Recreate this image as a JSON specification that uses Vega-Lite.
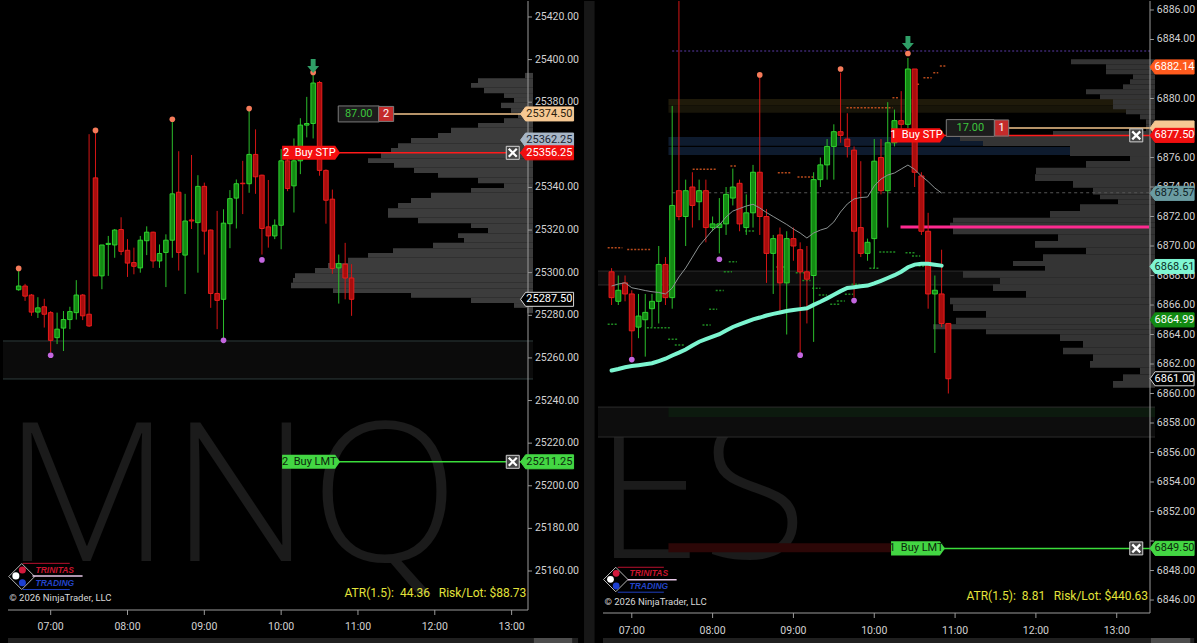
{
"$schema": "https://vega.github.io/schema/vega-lite/v6.json",
"background": "#000000",
"padding": {"left": 2, "top": 0, "right": 0, "bottom": 0},
"bounds": "flush",
"spacing": 65,
"config": {
  "view": {"stroke": null},
  "font": "Roboto",
  "text": {"font": "Roboto"}
},
"resolve": {"scale": {"color": "independent", "fill": "independent", "stroke": "independent"}},
"datasets": {
  "hours": [{"t":"2026-01-02 07:00"},{"t":"2026-01-02 08:00"},{"t":"2026-01-02 09:00"},{"t":"2026-01-02 10:00"},{"t":"2026-01-02 11:00"},{"t":"2026-01-02 12:00"},{"t":"2026-01-02 13:00"}],
  "mnqTicks": [{"p":25160},{"p":25180},{"p":25200},{"p":25220},{"p":25240},{"p":25260},{"p":25280},{"p":25300},{"p":25320},{"p":25340},{"p":25360},{"p":25380},{"p":25400},{"p":25420}],
  "esTicks": [{"p":6846},{"p":6848},{"p":6850},{"p":6852},{"p":6854},{"p":6856},{"p":6858},{"p":6860},{"p":6862},{"p":6864},{"p":6866},{"p":6868},{"p":6870},{"p":6872},{"p":6874},{"p":6876},{"p":6878},{"p":6880},{"p":6882},{"p":6884},{"p":6886}],
  "mnq": [
{"t":"2026-01-02 06:35","o":25292,"h":25300.75,"l":25291.5,"c":25293.75},
{"t":"2026-01-02 06:40","o":25293.75,"h":25294.75,"l":25286.75,"c":25289},
{"t":"2026-01-02 06:45","o":25289.5,"h":25290,"l":25279.75,"c":25281.5},
{"t":"2026-01-02 06:50","o":25281.5,"h":25288.5,"l":25278.75,"c":25283.5},
{"t":"2026-01-02 06:55","o":25284,"h":25287.75,"l":25274.25,"c":25280.5},
{"t":"2026-01-02 07:00","o":25281.25,"h":25282,"l":25262.5,"c":25268.25},
{"t":"2026-01-02 07:05","o":25269.5,"h":25281.25,"l":25266.5,"c":25273.5},
{"t":"2026-01-02 07:10","o":25274,"h":25282,"l":25263.25,"c":25278},
{"t":"2026-01-02 07:15","o":25278,"h":25284,"l":25273.5,"c":25281.75},
{"t":"2026-01-02 07:20","o":25281.25,"h":25296.5,"l":25278,"c":25289.5},
{"t":"2026-01-02 07:25","o":25289.5,"h":25290,"l":25277.75,"c":25279.75},
{"t":"2026-01-02 07:30","o":25280.5,"h":25365,"l":25274.5,"c":25275},
{"t":"2026-01-02 07:35","o":25344.5,"h":25365.75,"l":25298.5,"c":25298.5},
{"t":"2026-01-02 07:40","o":25298.5,"h":25313,"l":25292.25,"c":25313},
{"t":"2026-01-02 07:45","o":25313.25,"h":25317.25,"l":25298.5,"c":25313.75},
{"t":"2026-01-02 07:50","o":25313,"h":25320.5,"l":25307,"c":25320},
{"t":"2026-01-02 07:55","o":25320.25,"h":25326,"l":25308.25,"c":25310},
{"t":"2026-01-02 08:00","o":25310.5,"h":25315.75,"l":25298,"c":25304.5},
{"t":"2026-01-02 08:05","o":25304.75,"h":25311.75,"l":25299.25,"c":25303},
{"t":"2026-01-02 08:10","o":25302.25,"h":25317.25,"l":25300,"c":25315.25},
{"t":"2026-01-02 08:15","o":25315,"h":25321.75,"l":25308.25,"c":25319},
{"t":"2026-01-02 08:20","o":25319,"h":25319.25,"l":25302.25,"c":25305.5},
{"t":"2026-01-02 08:25","o":25305.5,"h":25313.25,"l":25302.25,"c":25309},
{"t":"2026-01-02 08:30","o":25309.5,"h":25318,"l":25293.25,"c":25315.25},
{"t":"2026-01-02 08:35","o":25315.25,"h":25371.25,"l":25307,"c":25337},
{"t":"2026-01-02 08:40","o":25337.75,"h":25357,"l":25301,"c":25309.5},
{"t":"2026-01-02 08:45","o":25308.25,"h":25337,"l":25290,"c":25324.25},
{"t":"2026-01-02 08:50","o":25324.75,"h":25355.25,"l":25320.5,"c":25324.25},
{"t":"2026-01-02 08:55","o":25323.5,"h":25345.75,"l":25300,"c":25340.5},
{"t":"2026-01-02 09:00","o":25340.5,"h":25342.25,"l":25308.5,"c":25319.5},
{"t":"2026-01-02 09:05","o":25320,"h":25320.25,"l":25283.5,"c":25290.25},
{"t":"2026-01-02 09:10","o":25290.25,"h":25329,"l":25273.5,"c":25287},
{"t":"2026-01-02 09:15","o":25287.5,"h":25329.75,"l":25268.75,"c":25323.25},
{"t":"2026-01-02 09:20","o":25323,"h":25338.75,"l":25311.5,"c":25334.75},
{"t":"2026-01-02 09:25","o":25335,"h":25343.75,"l":25320.75,"c":25341.75},
{"t":"2026-01-02 09:30","o":25342,"h":25352.5,"l":25327.5,"c":25341.75},
{"t":"2026-01-02 09:35","o":25341.75,"h":25376,"l":25337.5,"c":25355.5},
{"t":"2026-01-02 09:40","o":25355.5,"h":25367.25,"l":25337,"c":25345},
{"t":"2026-01-02 09:45","o":25345.75,"h":25346,"l":25308.5,"c":25320.75},
{"t":"2026-01-02 09:50","o":25321.5,"h":25343.5,"l":25311.75,"c":25317.25},
{"t":"2026-01-02 09:55","o":25317.25,"h":25325,"l":25315.75,"c":25322.25},
{"t":"2026-01-02 10:00","o":25322.25,"h":25358,"l":25311,"c":25352.5},
{"t":"2026-01-02 10:05","o":25352.5,"h":25358,"l":25338.25,"c":25339.5},
{"t":"2026-01-02 10:10","o":25340.75,"h":25363,"l":25328.25,"c":25352.5},
{"t":"2026-01-02 10:15","o":25352.5,"h":25372.5,"l":25346.25,"c":25369.25},
{"t":"2026-01-02 10:20","o":25369.25,"h":25382.5,"l":25363.5,"c":25370},
{"t":"2026-01-02 10:25","o":25370,"h":25393,"l":25363,"c":25389},
{"t":"2026-01-02 10:30","o":25389.25,"h":25390,"l":25345.5,"c":25348},
{"t":"2026-01-02 10:35","o":25348,"h":25348.5,"l":25323,"c":25334},
{"t":"2026-01-02 10:40","o":25334.5,"h":25339,"l":25299.5,"c":25302},
{"t":"2026-01-02 10:45","o":25302.25,"h":25308.5,"l":25285.5,"c":25304.25},
{"t":"2026-01-02 10:50","o":25304,"h":25314,"l":25287.5,"c":25297.5},
{"t":"2026-01-02 10:55","o":25297.5,"h":25304,"l":25279.75,"c":25287.5}
  ],
  "mnqDots": [
{"t":"2026-01-02 06:35","p":25302,"k":"hi"},
{"t":"2026-01-02 07:35","p":25366.75,"k":"hi"},
{"t":"2026-01-02 08:35","p":25372,"k":"hi"},
{"t":"2026-01-02 09:35","p":25377,"k":"hi"},
{"t":"2026-01-02 10:25","p":25394,"k":"hi"},
{"t":"2026-01-02 07:00","p":25261.25,"k":"lo"},
{"t":"2026-01-02 09:15","p":25268.25,"k":"lo"},
{"t":"2026-01-02 09:45","p":25306,"k":"lo"}
  ],
  "mnqProf": [
{"hi":25393.75,"lo":25391.25,"v":8},{"hi":25391.25,"lo":25389,"v":55},{"hi":25389,"lo":25386.75,"v":62},{"hi":25386.75,"lo":25384.25,"v":49},
{"hi":25384.25,"lo":25382,"v":29},{"hi":25382,"lo":25379.75,"v":19},{"hi":25379.75,"lo":25377.25,"v":32},{"hi":25377.25,"lo":25375,"v":22},
{"hi":25375,"lo":25372.5,"v":15},{"hi":25372.5,"lo":25370.25,"v":29},{"hi":25370.25,"lo":25368,"v":55},{"hi":25368,"lo":25365.5,"v":82},
{"hi":25365.5,"lo":25363.25,"v":95},{"hi":25363.25,"lo":25360.75,"v":122},{"hi":25360.75,"lo":25358.5,"v":135},{"hi":25358.5,"lo":25356.25,"v":142},
{"hi":25356.25,"lo":25353.75,"v":152},{"hi":25353.75,"lo":25351.5,"v":165},{"hi":25351.5,"lo":25349.25,"v":139},{"hi":25349.25,"lo":25346.75,"v":119},
{"hi":25346.75,"lo":25344.5,"v":95},{"hi":25344.5,"lo":25342,"v":55},{"hi":25342,"lo":25339.75,"v":29},{"hi":25339.75,"lo":25337.5,"v":62},
{"hi":25337.5,"lo":25335,"v":102},{"hi":25335,"lo":25332.75,"v":122},{"hi":25332.75,"lo":25330.25,"v":135},{"hi":25330.25,"lo":25328,"v":145},
{"hi":25328,"lo":25325.75,"v":145},{"hi":25325.75,"lo":25323.25,"v":115},{"hi":25323.25,"lo":25321,"v":62},{"hi":25321,"lo":25318.5,"v":45},
{"hi":25318.5,"lo":25316.25,"v":75},{"hi":25316.25,"lo":25314,"v":69},{"hi":25314,"lo":25311.5,"v":100},{"hi":25311.5,"lo":25309.25,"v":140},
{"hi":25309.25,"lo":25307,"v":165},{"hi":25307,"lo":25304.5,"v":185},{"hi":25304.5,"lo":25302.25,"v":205},{"hi":25302.25,"lo":25299.75,"v":218},
{"hi":25299.75,"lo":25297.5,"v":238},{"hi":25297.5,"lo":25295.25,"v":240},{"hi":25295.25,"lo":25292.75,"v":242},{"hi":25292.75,"lo":25290.5,"v":200},
{"hi":25290.5,"lo":25288.25,"v":122},{"hi":25288.25,"lo":25285.75,"v":62},{"hi":25285.75,"lo":25283.5,"v":19},{"hi":25283.5,"lo":25281,"v":6}
  ],
  "mnqOrders": [{"p":25356.25,"k":"stop","lbl":"2\u00a0 Buy STP"},{"p":25211.25,"k":"lmt","lbl":"2\u00a0 Buy LMT"}],
  "mnqTags": [{"p":25374.5,"k":"pos"},{"p":25362.25,"k":"ref"},{"p":25356.25,"k":"stop"},{"p":25287.5,"k":"last"},{"p":25211.25,"k":"lmt"}],
  "es": [
{"t":"2026-01-02 06:45","o":6868.25,"h":6868.5,"l":6866,"c":6866.5,"m1":6867.29,"m2":6861.56},
{"t":"2026-01-02 06:50","o":6866.25,"h":6868,"l":6866,"c":6867,"m1":6867.42,"m2":6861.66},
{"t":"2026-01-02 06:55","o":6867.5,"h":6868,"l":6866.25,"c":6866.75,"m1":6867.51,"m2":6861.78},
{"t":"2026-01-02 07:00","o":6866.75,"h":6867,"l":6862.5,"c":6864.25,"m1":6867.17,"m2":6861.86},
{"t":"2026-01-02 07:05","o":6864.5,"h":6866.75,"l":6863.75,"c":6865.25,"m1":6867.08,"m2":6861.92},
{"t":"2026-01-02 07:10","o":6865,"h":6866.75,"l":6862.5,"c":6865.5,"m1":6866.98,"m2":6861.98},
{"t":"2026-01-02 07:15","o":6865.75,"h":6866.75,"l":6864.5,"c":6866.25,"m1":6866.9,"m2":6862.05},
{"t":"2026-01-02 07:20","o":6866.25,"h":6870,"l":6864.75,"c":6868.75,"m1":6866.85,"m2":6862.2},
{"t":"2026-01-02 07:25","o":6868.75,"h":6869.25,"l":6866,"c":6866.5,"m1":6866.75,"m2":6862.36},
{"t":"2026-01-02 07:30","o":6866.5,"h":6879.5,"l":6865.75,"c":6872.75,"m1":6867.15,"m2":6862.58},
{"t":"2026-01-02 07:35","o":6873.75,"h":6890,"l":6871.75,"c":6872,"m1":6867.9,"m2":6862.77},
{"t":"2026-01-02 07:40","o":6872,"h":6874.5,"l":6870,"c":6873.75,"m1":6868.51,"m2":6862.98},
{"t":"2026-01-02 07:45","o":6874,"h":6875,"l":6871.25,"c":6872.75,"m1":6869.25,"m2":6863.25},
{"t":"2026-01-02 07:50","o":6873,"h":6874.5,"l":6871.75,"c":6873.75,"m1":6870,"m2":6863.51},
{"t":"2026-01-02 07:55","o":6873.75,"h":6874.5,"l":6870.25,"c":6871.25,"m1":6870.54,"m2":6863.69},
{"t":"2026-01-02 08:00","o":6871.25,"h":6872,"l":6871,"c":6871.5,"m1":6871.08,"m2":6863.86},
{"t":"2026-01-02 08:05","o":6871.25,"h":6873.25,"l":6869.5,"c":6871.5,"m1":6871.42,"m2":6864.02},
{"t":"2026-01-02 08:10","o":6871.5,"h":6874,"l":6870.75,"c":6873.5,"m1":6871.97,"m2":6864.27},
{"t":"2026-01-02 08:15","o":6873.25,"h":6875.25,"l":6872.75,"c":6874,"m1":6872.37,"m2":6864.51},
{"t":"2026-01-02 08:20","o":6874.25,"h":6874.5,"l":6871,"c":6871.5,"m1":6872.54,"m2":6864.68},
{"t":"2026-01-02 08:25","o":6871.25,"h":6873.5,"l":6870.75,"c":6872.25,"m1":6872.71,"m2":6864.86},
{"t":"2026-01-02 08:30","o":6872.25,"h":6875.5,"l":6871.25,"c":6875,"m1":6872.83,"m2":6865.03},
{"t":"2026-01-02 08:35","o":6875,"h":6881.5,"l":6870.75,"c":6872,"m1":6872.58,"m2":6865.15},
{"t":"2026-01-02 08:40","o":6872,"h":6872.5,"l":6867.5,"c":6869.5,"m1":6872.27,"m2":6865.29},
{"t":"2026-01-02 08:45","o":6869.5,"h":6870.75,"l":6866.75,"c":6870.5,"m1":6872,"m2":6865.4},
{"t":"2026-01-02 08:50","o":6870.75,"h":6871.25,"l":6865.5,"c":6867.5,"m1":6871.73,"m2":6865.49},
{"t":"2026-01-02 08:55","o":6867.5,"h":6871,"l":6864,"c":6870.5,"m1":6871.46,"m2":6865.59},
{"t":"2026-01-02 09:00","o":6870.5,"h":6871.25,"l":6869,"c":6870,"m1":6871.15,"m2":6865.66},
{"t":"2026-01-02 09:05","o":6869.75,"h":6870.25,"l":6862.75,"c":6868.25,"m1":6870.88,"m2":6865.72},
{"t":"2026-01-02 09:10","o":6868.25,"h":6870,"l":6864.75,"c":6867.75,"m1":6870.54,"m2":6865.78},
{"t":"2026-01-02 09:15","o":6868,"h":6875,"l":6863.5,"c":6874.5,"m1":6870.88,"m2":6866.01},
{"t":"2026-01-02 09:20","o":6874.5,"h":6876,"l":6874,"c":6875.5,"m1":6871.08,"m2":6866.22},
{"t":"2026-01-02 09:25","o":6875.5,"h":6877.25,"l":6874.5,"c":6876.75,"m1":6871.22,"m2":6866.45},
{"t":"2026-01-02 09:30","o":6876.75,"h":6878.25,"l":6874.5,"c":6877.75,"m1":6871.63,"m2":6866.7},
{"t":"2026-01-02 09:35","o":6877.75,"h":6881.75,"l":6877,"c":6877.5,"m1":6872.31,"m2":6866.94},
{"t":"2026-01-02 09:40","o":6877.25,"h":6879,"l":6876,"c":6876.75,"m1":6872.85,"m2":6867.15},
{"t":"2026-01-02 09:45","o":6876.5,"h":6876.75,"l":6866.5,"c":6871,"m1":6873.19,"m2":6867.21},
{"t":"2026-01-02 09:50","o":6871.25,"h":6875.75,"l":6869.25,"c":6869.5,"m1":6873.29,"m2":6867.27},
{"t":"2026-01-02 09:55","o":6869.5,"h":6870.5,"l":6869,"c":6870.25,"m1":6873.32,"m2":6867.32},
{"t":"2026-01-02 10:00","o":6870.5,"h":6877.25,"l":6868.5,"c":6875.75,"m1":6874.07,"m2":6867.46},
{"t":"2026-01-02 10:05","o":6876,"h":6877.25,"l":6873.5,"c":6873.75,"m1":6874.54,"m2":6867.64},
{"t":"2026-01-02 10:10","o":6873.75,"h":6879.75,"l":6871.25,"c":6877,"m1":6874.81,"m2":6867.83},
{"t":"2026-01-02 10:15","o":6877,"h":6879.25,"l":6876.75,"c":6878.5,"m1":6874.95,"m2":6868.02},
{"t":"2026-01-02 10:20","o":6878.5,"h":6880.5,"l":6877.5,"c":6878.25,"m1":6875.22,"m2":6868.26},
{"t":"2026-01-02 10:25","o":6878.25,"h":6882.75,"l":6878,"c":6882,"m1":6875.49,"m2":6868.56},
{"t":"2026-01-02 10:30","o":6882,"h":6882,"l":6874,"c":6875,"m1":6875.19,"m2":6868.74},
{"t":"2026-01-02 10:35","o":6874.75,"h":6875,"l":6870.75,"c":6871,"m1":6874.75,"m2":6868.79},
{"t":"2026-01-02 10:40","o":6871,"h":6872.25,"l":6865.75,"c":6866.75,"m1":6874.37,"m2":6868.79},
{"t":"2026-01-02 10:45","o":6866.75,"h":6868,"l":6862.75,"c":6867,"m1":6873.93,"m2":6868.73},
{"t":"2026-01-02 10:50","o":6866.75,"h":6869.75,"l":6864.5,"c":6864.75,"m1":6873.59,"m2":6868.67},
{"t":"2026-01-02 10:55","o":6864.75,"h":6864.75,"l":6860,"c":6861}
  ],
  "esDots": [
{"t":"2026-01-02 08:35","p":6881.6,"k":"hi"},
{"t":"2026-01-02 09:35","p":6882.0,"k":"hi"},
{"t":"2026-01-02 10:25","p":6883.05,"k":"hi"},
{"t":"2026-01-02 07:00","p":6862.3,"k":"lo"},
{"t":"2026-01-02 08:05","p":6869.1,"k":"lo"},
{"t":"2026-01-02 09:05","p":6862.6,"k":"lo"},
{"t":"2026-01-02 09:45","p":6866.3,"k":"lo"}
  ],
  "esDash": [
{"t1":"2026-01-02 06:42:06","t2":"2026-01-02 06:53:00","p":6869.88,"k":"o"},
{"t1":"2026-01-02 06:56:36","t2":"2026-01-02 07:13:36","p":6869.77,"k":"o"},
{"t1":"2026-01-02 07:45:12","t2":"2026-01-02 08:03:24","p":6875.2,"k":"o"},
{"t1":"2026-01-02 08:13:12","t2":"2026-01-02 08:18:00","p":6875.42,"k":"o"},
{"t1":"2026-01-02 08:48:24","t2":"2026-01-02 08:58:06","p":6874.97,"k":"o"},
{"t1":"2026-01-02 09:03:00","t2":"2026-01-02 09:15:12","p":6874.68,"k":"o"},
{"t1":"2026-01-02 09:39:24","t2":"2026-01-02 10:13:30","p":6879.38,"k":"o"},
{"t1":"2026-01-02 10:13:30","t2":"2026-01-02 10:18:18","p":6880.05,"k":"o"},
{"t1":"2026-01-02 10:29:12","t2":"2026-01-02 10:34:18","p":6880.96,"k":"o"},
{"t1":"2026-01-02 10:36:30","t2":"2026-01-02 10:42:36","p":6881.41,"k":"o"},
{"t1":"2026-01-02 10:43:48","t2":"2026-01-02 10:47:30","p":6881.75,"k":"o"},
{"t1":"2026-01-02 10:48:42","t2":"2026-01-02 10:53:36","p":6882.2,"k":"o"},
{"t1":"2026-01-02 06:42:06","t2":"2026-01-02 06:49:24","p":6864.69,"k":"g"},
{"t1":"2026-01-02 07:11:12","t2":"2026-01-02 07:28:12","p":6864.46,"k":"g"},
{"t1":"2026-01-02 07:27:00","t2":"2026-01-02 07:34:18","p":6863.68,"k":"g"},
{"t1":"2026-01-02 07:31:54","t2":"2026-01-02 07:39:06","p":6863.29,"k":"g"},
{"t1":"2026-01-02 07:52:30","t2":"2026-01-02 07:58:36","p":6864.64,"k":"g"},
{"t1":"2026-01-02 07:57:24","t2":"2026-01-02 08:03:24","p":6865.71,"k":"g"},
{"t1":"2026-01-02 08:02:18","t2":"2026-01-02 08:08:18","p":6866.99,"k":"g"},
{"t1":"2026-01-02 08:08:18","t2":"2026-01-02 08:14:24","p":6868.26,"k":"g"},
{"t1":"2026-01-02 08:12:00","t2":"2026-01-02 08:18:00","p":6868.94,"k":"g"},
{"t1":"2026-01-02 08:24:06","t2":"2026-01-02 08:31:24","p":6871.02,"k":"g"},
{"t1":"2026-01-02 08:47:12","t2":"2026-01-02 08:53:18","p":6868.58,"k":"g"},
{"t1":"2026-01-02 09:01:42","t2":"2026-01-02 09:07:54","p":6868.19,"k":"g"},
{"t1":"2026-01-02 09:06:36","t2":"2026-01-02 09:12:42","p":6867.67,"k":"g"},
{"t1":"2026-01-02 09:13:54","t2":"2026-01-02 09:20:00","p":6867.13,"k":"g"},
{"t1":"2026-01-02 09:18:48","t2":"2026-01-02 09:24:54","p":6866.68,"k":"g"},
{"t1":"2026-01-02 09:27:18","t2":"2026-01-02 09:34:36","p":6866.05,"k":"g"},
{"t1":"2026-01-02 09:32:12","t2":"2026-01-02 09:38:12","p":6866.27,"k":"g"},
{"t1":"2026-01-02 09:38:12","t2":"2026-01-02 09:44:18","p":6866.73,"k":"g"},
{"t1":"2026-01-02 09:43:06","t2":"2026-01-02 09:49:06","p":6867.4,"k":"g"},
{"t1":"2026-01-02 09:56:24","t2":"2026-01-02 10:03:42","p":6868.49,"k":"g"},
{"t1":"2026-01-02 10:03:42","t2":"2026-01-02 10:15:54","p":6869.6,"k":"g"},
{"t1":"2026-01-02 10:23:12","t2":"2026-01-02 10:30:30","p":6869.55,"k":"g"},
{"t1":"2026-01-02 10:28:00","t2":"2026-01-02 10:34:06","p":6869.32,"k":"g"},
{"t1":"2026-01-02 10:32:54","t2":"2026-01-02 10:39:00","p":6868.64,"k":"g"}
  ],
  "esProf": [
{"hi":6882.66,"lo":6882.32,"v":84},{"hi":6882.32,"lo":6881.98,"v":49},{"hi":6881.98,"lo":6881.64,"v":49},{"hi":6881.64,"lo":6881.3,"v":22},
{"hi":6881.3,"lo":6880.96,"v":25},{"hi":6880.96,"lo":6880.62,"v":32},{"hi":6880.62,"lo":6880.28,"v":69},{"hi":6880.28,"lo":6879.95,"v":55},
{"hi":6879.95,"lo":6879.61,"v":42},{"hi":6879.61,"lo":6879.27,"v":42},{"hi":6879.27,"lo":6878.93,"v":29},{"hi":6878.93,"lo":6878.59,"v":15},
{"hi":6878.59,"lo":6878.25,"v":9},{"hi":6878.25,"lo":6877.8,"v":9},{"hi":6877.8,"lo":6877.46,"v":102},{"hi":6877.46,"lo":6877.12,"v":195},
{"hi":6877.12,"lo":6876.78,"v":172},{"hi":6876.78,"lo":6876.44,"v":85},{"hi":6876.44,"lo":6876.1,"v":85},{"hi":6876.1,"lo":6875.76,"v":25},
{"hi":6875.76,"lo":6875.31,"v":69},{"hi":6875.31,"lo":6874.86,"v":119},{"hi":6874.86,"lo":6874.41,"v":120},{"hi":6874.41,"lo":6873.95,"v":82},
{"hi":6873.95,"lo":6873.5,"v":62},{"hi":6873.5,"lo":6873.17,"v":55},{"hi":6873.17,"lo":6872.83,"v":37},{"hi":6872.83,"lo":6872.37,"v":75},
{"hi":6872.37,"lo":6871.92,"v":105},{"hi":6871.92,"lo":6871.58,"v":202},{"hi":6871.58,"lo":6871.24,"v":205},{"hi":6871.24,"lo":6870.79,"v":202},
{"hi":6870.79,"lo":6870.34,"v":97},{"hi":6870.34,"lo":6869.88,"v":120},{"hi":6869.88,"lo":6869.44,"v":69},{"hi":6869.44,"lo":6868.98,"v":112},
{"hi":6868.98,"lo":6868.64,"v":142},{"hi":6868.64,"lo":6868.3,"v":110},{"hi":6868.3,"lo":6867.85,"v":192},{"hi":6867.85,"lo":6867.4,"v":155},
{"hi":6867.4,"lo":6866.95,"v":162},{"hi":6866.95,"lo":6866.49,"v":129},{"hi":6866.49,"lo":6866.05,"v":205},{"hi":6866.05,"lo":6865.59,"v":202},
{"hi":6865.59,"lo":6865.14,"v":169},{"hi":6865.14,"lo":6864.69,"v":199},{"hi":6864.69,"lo":6864.35,"v":222},{"hi":6864.35,"lo":6864.01,"v":169},
{"hi":6864.01,"lo":6863.56,"v":95},{"hi":6863.56,"lo":6863.1,"v":72},{"hi":6863.1,"lo":6862.66,"v":92},{"hi":6862.66,"lo":6862.2,"v":62},
{"hi":6862.2,"lo":6861.75,"v":65},{"hi":6861.75,"lo":6861.3,"v":15},{"hi":6861.3,"lo":6860.85,"v":32},{"hi":6860.85,"lo":6860.39,"v":42}
  ],
  "esZones": [
{"lo":6879.55,"hi":6879.97,"k":"olive1"},{"lo":6879.04,"hi":6879.55,"k":"olive2"},
{"lo":6876.8,"hi":6877.39,"k":"blue"},{"lo":6876.17,"hi":6876.72,"k":"blue"},
{"lo":6858.41,"hi":6859.08,"k":"green"}
  ],
  "esOrders": [{"p":6877.5,"k":"stop","lbl":"1\u00a0 Buy STP"},{"p":6849.5,"k":"lmt","lbl":"1\u00a0 Buy LMT"}],
  "esTags": [{"p":6882.14,"k":"sig"},{"p":6878.0,"k":"pos"},{"p":6877.5,"k":"stop"},{"p":6873.57,"k":"ma1"},{"p":6868.61,"k":"ma2"},{"p":6864.99,"k":"grn"},{"p":6861.0,"k":"last"},{"p":6849.5,"k":"lmt"}]
},
"hconcat": [
{
 "width": 530, "height": 609,
 "resolve": {"scale": {"x": "independent", "color": "independent", "fill": "independent", "stroke": "independent"}},
 "layer": [
  {
   "layer": [
    {"data": {"values": [{}]}, "mark": {"type": "text", "text": "MNQ", "font": "Open Sans", "fontWeight": 300, "fontSize": 194, "align": "left", "baseline": "alphabetic", "color": "#1b1b1b"},
     "encoding": {"x": {"datum": {"year":2026,"month":1,"date":2,"hours":6,"minutes":26,"seconds":50}, "type": "temporal", "axis": null, "scale": {"domain": [{"year":2026,"month":1,"date":2,"hours":6,"minutes":26,"seconds":40},{"year":2026,"month":1,"date":2,"hours":13,"minutes":12,"seconds":48}]}},
                  "y": {"datum": 25164.7, "type": "quantitative", "axis": null, "scale": {"domain": [25141.7, 25427.5], "nice": false, "zero": false}}}},
    {"data": {"values": [{}]}, "mark": {"type": "rect", "color": "#0b0b0b"},
     "encoding": {"x": {"datum": {"year":2026,"month":1,"date":2,"hours":6,"minutes":26,"seconds":40}, "type": "temporal", "axis": null}, "x2": {"datum": {"year":2026,"month":1,"date":2,"hours":13,"minutes":12,"seconds":48}},
                  "y": {"datum": 25250.12, "type": "quantitative", "axis": null}, "y2": {"datum": 25267.95}}},
    {"data": {"values": [{}]}, "mark": {"type": "rect", "color": "#171717"},
     "encoding": {"x": {"datum": {"year":2026,"month":1,"date":2,"hours":13,"minutes":51,"seconds":54}, "type": "temporal", "axis": null}, "x2": {"datum": {"year":2026,"month":1,"date":2,"hours":14,"minutes":0,"seconds":0}},
                  "y": {"datum": 25125.8, "type": "quantitative", "axis": null}, "y2": {"datum": 25427.5}}},
    {"data": {"values": [{"p": 25267.95}, {"p": 25250.12}]}, "mark": {"type": "rule", "color": "#2e3c3c", "strokeWidth": 1},
     "encoding": {"x": {"datum": {"year":2026,"month":1,"date":2,"hours":6,"minutes":26,"seconds":40}, "type": "temporal", "axis": null}, "x2": {"datum": {"year":2026,"month":1,"date":2,"hours":13,"minutes":12,"seconds":48}},
                  "y": {"field": "p", "type": "quantitative", "axis": null}}}
   ]
  },
  {"data": {"name": "mnqProf"}, "mark": {"type": "rect", "color": "#3c3c3c"},
   "encoding": {"x": {"field": "v", "type": "quantitative", "axis": null, "scale": {"domain": [0, 530], "reverse": true, "nice": false}}, "x2": {"datum": 0},
                "y": {"field": "hi", "type": "quantitative", "axis": null}, "y2": {"field": "lo"}}},
  {
   "resolve": {"scale": {"color": "independent", "fill": "independent", "stroke": "independent"}},
   "layer": [
    {"data": {"name": "mnq"}, "mark": {"type": "rule", "strokeWidth": 1, "clip": true},
     "encoding": {"x": {"field": "t", "type": "temporal", "axis": null, "scale": {"domain": [{"year":2026,"month":1,"date":2,"hours":6,"minutes":26,"seconds":40},{"year":2026,"month":1,"date":2,"hours":13,"minutes":12,"seconds":48}]}},
                  "y": {"field": "l", "type": "quantitative", "axis": null, "scale": {"domain": [25141.7, 25427.5], "nice": false, "zero": false}},
                  "y2": {"field": "h"},
                  "color": {"condition": {"test": "datum.c >= datum.o", "value": "#2bbd2b"}, "value": "#d41515"}}},
    {"data": {"name": "mnq"}, "mark": {"type": "bar", "size": 4.5, "strokeWidth": 1},
     "encoding": {"x": {"field": "t", "type": "temporal", "axis": null}, "y": {"field": "o", "type": "quantitative", "axis": null}, "y2": {"field": "c"},
                  "fill": {"condition": {"test": "datum.c >= datum.o", "value": "#138a13"}, "value": "#a80d0d"},
                  "stroke": {"condition": {"test": "datum.c >= datum.o", "value": "#2fd02f"}, "value": "#e81c1c"}}},
    {"data": {"name": "mnqDots"}, "mark": {"type": "point", "filled": true, "size": 32, "opacity": 1},
     "encoding": {"x": {"field": "t", "type": "temporal", "axis": null}, "y": {"field": "p", "type": "quantitative", "axis": null},
                  "color": {"field": "k", "type": "nominal", "scale": {"domain": ["hi", "lo"], "range": ["#f57b5a", "#c466e0"]}, "legend": null}}},
    {"data": {"values": [{}]}, "mark": {"type": "point", "shape": "M-0.35,-1L0.35,-1L0.35,0L0.85,0L0,1L-0.85,0L-0.35,0Z", "filled": true, "size": 196, "color": "#2f9f67", "opacity": 1},
     "encoding": {"x": {"datum": {"year":2026,"month":1,"date":2,"hours":10,"minutes":25}, "type": "temporal", "axis": null}, "y": {"datum": 25397, "type": "quantitative", "axis": null}}},
    {"data": {"name": "mnqOrders"}, "mark": {"type": "rule", "strokeWidth": 1.5},
     "encoding": {"x": {"datum": {"year":2026,"month":1,"date":2,"hours":10,"minutes":23}, "type": "temporal", "axis": null}, "x2": {"datum": {"year":2026,"month":1,"date":2,"hours":13,"minutes":20}},
                  "y": {"field": "p", "type": "quantitative", "axis": null},
                  "color": {"field": "k", "type": "nominal", "scale": {"domain": ["stop", "lmt"], "range": ["#ff1a1a", "#3bdc3b"]}, "legend": null}}},
    {"data": {"values": [{}]}, "mark": {"type": "rule", "strokeWidth": 1.5, "color": "#f2c48d"},
     "encoding": {"x": {"datum": {"year":2026,"month":1,"date":2,"hours":11,"minutes":22}, "type": "temporal", "axis": null}, "x2": {"datum": {"year":2026,"month":1,"date":2,"hours":13,"minutes":20}},
                  "y": {"datum": 25374.5, "type": "quantitative", "axis": null}}},
    {"data": {"name": "mnqOrders"}, "mark": {"type": "point", "shape": "M-1,-0.24L0.83,-0.24L1,0L0.83,0.24L-1,0.24Z", "filled": true, "size": 3364, "opacity": 1},
     "encoding": {"x": {"datum": {"year":2026,"month":1,"date":2,"hours":10,"minutes":23,"seconds":24}, "type": "temporal", "axis": null},
                  "y": {"field": "p", "type": "quantitative", "axis": null},
                  "color": {"field": "k", "type": "nominal", "scale": {"domain": ["stop", "lmt"], "range": ["#f50f0f", "#43d643"]}, "legend": null}}},
    {"data": {"name": "mnqOrders"}, "mark": {"type": "text", "fontSize": 11, "align": "center", "baseline": "middle"},
     "encoding": {"x": {"datum": {"year":2026,"month":1,"date":2,"hours":10,"minutes":22,"seconds":0}, "type": "temporal", "axis": null},
                  "y": {"field": "p", "type": "quantitative", "axis": null}, "text": {"field": "lbl"},
                  "color": {"field": "k", "type": "nominal", "scale": {"domain": ["stop", "lmt"], "range": ["#ffffff", "#0b260b"]}, "legend": null}}},
    {"data": {"name": "mnqOrders"}, "mark": {"type": "point", "shape": "square", "filled": true, "fill": "#454545", "stroke": "#d0d0d0", "strokeWidth": 1, "size": 169, "opacity": 1},
     "encoding": {"x": {"datum": {"year":2026,"month":1,"date":2,"hours":13,"minutes":0,"seconds":54}, "type": "temporal", "axis": null}, "y": {"field": "p", "type": "quantitative", "axis": null}}},
    {"data": {"name": "mnqOrders"}, "mark": {"type": "point", "shape": "M-1,-1L1,1M1,-1L-1,1", "filled": false, "color": "#ffffff", "strokeWidth": 2.2, "size": 64, "opacity": 1},
     "encoding": {"x": {"datum": {"year":2026,"month":1,"date":2,"hours":13,"minutes":0,"seconds":54}, "type": "temporal", "axis": null}, "y": {"field": "p", "type": "quantitative", "axis": null}}},
    {"data": {"values": [{}]}, "mark": {"type": "point", "shape": "M-1,-0.39L1,-0.39L1,0.39L-1,0.39Z", "filled": true, "fill": "#1c1c1c", "stroke": "#7a7a7a", "strokeWidth": 1, "size": 1681, "opacity": 1},
     "encoding": {"x": {"datum": {"year":2026,"month":1,"date":2,"hours":11,"minutes":0,"seconds":36}, "type": "temporal", "axis": null}, "y": {"datum": 25374.5, "type": "quantitative", "axis": null}}},
    {"data": {"values": [{}]}, "mark": {"type": "text", "text": "87.00", "fontSize": 11, "align": "center", "baseline": "middle", "color": "#3cc43c"},
     "encoding": {"x": {"datum": {"year":2026,"month":1,"date":2,"hours":11,"minutes":0,"seconds":36}, "type": "temporal", "axis": null}, "y": {"datum": 25374.5, "type": "quantitative", "axis": null}}},
    {"data": {"values": [{}]}, "mark": {"type": "point", "shape": "square", "filled": true, "fill": "#c42b2b", "stroke": "#7a7a7a", "strokeWidth": 1, "size": 225, "opacity": 1},
     "encoding": {"x": {"datum": {"year":2026,"month":1,"date":2,"hours":11,"minutes":22}, "type": "temporal", "axis": null}, "y": {"datum": 25374.5, "type": "quantitative", "axis": null}}},
    {"data": {"values": [{}]}, "mark": {"type": "text", "text": "2", "fontSize": 11, "align": "center", "baseline": "middle", "color": "#ffffff"},
     "encoding": {"x": {"datum": {"year":2026,"month":1,"date":2,"hours":11,"minutes":22}, "type": "temporal", "axis": null}, "y": {"datum": 25374.5, "type": "quantitative", "axis": null}}},
    {"data": {"values": [{}]}, "mark": {"type": "rule", "color": "#9a9a9a", "strokeWidth": 1},
     "encoding": {"x": {"datum": {"year":2026,"month":1,"date":2,"hours":13,"minutes":12,"seconds":48}, "type": "temporal", "axis": null}, "y": {"datum": 25141.7, "type": "quantitative", "axis": null}, "y2": {"datum": 25427.5}}},
    {"data": {"values": [{}]}, "mark": {"type": "rule", "color": "#9a9a9a", "strokeWidth": 1},
     "encoding": {"x": {"datum": {"year":2026,"month":1,"date":2,"hours":6,"minutes":26,"seconds":40}, "type": "temporal", "axis": null}, "x2": {"datum": {"year":2026,"month":1,"date":2,"hours":13,"minutes":12,"seconds":48}}, "y": {"datum": 25141.7, "type": "quantitative", "axis": null}}},
    {"data": {"name": "mnqTicks"}, "mark": {"type": "rule", "color": "#9a9a9a", "strokeWidth": 1},
     "encoding": {"x": {"datum": {"year":2026,"month":1,"date":2,"hours":13,"minutes":12,"seconds":48}, "type": "temporal", "axis": null}, "x2": {"datum": {"year":2026,"month":1,"date":2,"hours":13,"minutes":15,"seconds":54}}, "y": {"field": "p", "type": "quantitative", "axis": null}}},
    {"data": {"name": "mnqTicks"}, "transform": [{"filter": "datum.p != 25360"}], "mark": {"type": "text", "align": "left", "baseline": "middle", "fontSize": 10.5, "color": "#d2d2d2"},
     "encoding": {"x": {"datum": {"year":2026,"month":1,"date":2,"hours":13,"minutes":18,"seconds":12}, "type": "temporal", "axis": null}, "y": {"field": "p", "type": "quantitative", "axis": null}, "text": {"field": "p", "type": "quantitative", "format": ".2f"}}},
    {"data": {"name": "hours"}, "mark": {"type": "rule", "color": "#9a9a9a", "strokeWidth": 1},
     "encoding": {"x": {"field": "t", "type": "temporal", "axis": null}, "y": {"datum": 25141.7, "type": "quantitative", "axis": null}, "y2": {"datum": 25139.35}}},
    {"data": {"name": "hours"}, "mark": {"type": "text", "align": "center", "baseline": "middle", "fontSize": 10.5, "color": "#d2d2d2"},
     "encoding": {"x": {"field": "t", "type": "temporal", "axis": null}, "y": {"datum": 25133.74, "type": "quantitative", "axis": null}, "text": {"field": "t", "type": "temporal", "format": "%H:%M"}}},
    {"data": {"values": [{}]}, "mark": {"type": "rect", "color": "#202020"},
     "encoding": {"x": {"datum": {"year":2026,"month":1,"date":2,"hours":6,"minutes":26,"seconds":40}, "type": "temporal", "axis": null}, "x2": {"datum": {"year":2026,"month":1,"date":2,"hours":13,"minutes":51,"seconds":54}},
                  "y": {"datum": 25125.8, "type": "quantitative", "axis": null}, "y2": {"datum": 25128.6}}},
    {"data": {"values": [{}]}, "mark": {"type": "rect", "color": "#4d4d4d"},
     "encoding": {"x": {"datum": {"year":2026,"month":1,"date":2,"hours":13,"minutes":17,"seconds":24}, "type": "temporal", "axis": null}, "x2": {"datum": {"year":2026,"month":1,"date":2,"hours":13,"minutes":47,"seconds":18}},
                  "y": {"datum": 25125.8, "type": "quantitative", "axis": null}, "y2": {"datum": 25128.6}}},
    {"data": {"name": "mnqTags"}, "mark": {"type": "point", "shape": "M-1,0L-0.81,-0.264L1,-0.264L1,0.264L-0.81,0.264Z", "filled": true, "size": 2809, "strokeWidth": 1, "opacity": 1},
     "encoding": {"x": {"datum": {"year":2026,"month":1,"date":2,"hours":13,"minutes":27,"seconds":42}, "type": "temporal", "axis": null},
                  "y": {"field": "p", "type": "quantitative", "axis": null},
                  "fill": {"field": "k", "type": "nominal", "scale": {"domain": ["pos","ref","stop","last","lmt"], "range": ["#f6c893","#a7b6c6","#f10f0f","#000000","#43d643"]}, "legend": null},
                  "stroke": {"field": "k", "type": "nominal", "scale": {"domain": ["pos","ref","stop","last","lmt"], "range": ["#f6c893","#a7b6c6","#f10f0f","#d8d8d8","#43d643"]}, "legend": null}}},
    {"data": {"name": "mnqTags"}, "mark": {"type": "text", "fontSize": 11, "align": "center", "baseline": "middle"},
     "encoding": {"x": {"datum": {"year":2026,"month":1,"date":2,"hours":13,"minutes":29,"seconds":30}, "type": "temporal", "axis": null},
                  "y": {"field": "p", "type": "quantitative", "axis": null}, "text": {"field": "p", "type": "quantitative", "format": ".2f"},
                  "color": {"field": "k", "type": "nominal", "scale": {"domain": ["pos","ref","stop","last","lmt"], "range": ["#2a1d0c","#1b2633","#ffffff","#ffffff","#0d2a0d"]}, "legend": null}}},
    {"data": {"values": [{}]}, "mark": {"type": "point", "shape": "diamond", "filled": false, "color": "#b8b8b8", "strokeWidth": 1, "size": 676, "opacity": 1},
     "encoding": {"x": {"datum": {"year":2026,"month":1,"date":2,"hours":6,"minutes":37,"seconds":24}, "type": "temporal", "axis": null}, "y": {"datum": 25157.4, "type": "quantitative", "axis": null}}},
    {"data": {"values": [{}]}, "mark": {"type": "point", "shape": "circle", "filled": true, "color": "#d3193c", "size": 50, "opacity": 1},
     "encoding": {"x": {"datum": {"year":2026,"month":1,"date":2,"hours":6,"minutes":37,"seconds":54}, "type": "temporal", "axis": null}, "y": {"datum": 25160.5, "type": "quantitative", "axis": null}}},
    {"data": {"values": [{}]}, "mark": {"type": "point", "shape": "circle", "filled": true, "color": "#ffffff", "size": 50, "opacity": 1},
     "encoding": {"x": {"datum": {"year":2026,"month":1,"date":2,"hours":6,"minutes":32,"seconds":48}, "type": "temporal", "axis": null}, "y": {"datum": 25157.7, "type": "quantitative", "axis": null}}},
    {"data": {"values": [{}]}, "mark": {"type": "point", "shape": "circle", "filled": true, "color": "#1c3fd0", "size": 50, "opacity": 1},
     "encoding": {"x": {"datum": {"year":2026,"month":1,"date":2,"hours":6,"minutes":37,"seconds":54}, "type": "temporal", "axis": null}, "y": {"datum": 25154.5, "type": "quantitative", "axis": null}}},
    {"data": {"values": [{}]}, "mark": {"type": "rule", "color": "#b8102e", "strokeWidth": 1},
     "encoding": {"x": {"datum": {"year":2026,"month":1,"date":2,"hours":6,"minutes":38,"seconds":12}, "type": "temporal", "axis": null}, "x2": {"datum": {"year":2026,"month":1,"date":2,"hours":7,"minutes":14,"seconds":54}}, "y": {"datum": 25163.6, "type": "quantitative", "axis": null}}},
    {"data": {"values": [{}]}, "mark": {"type": "rule", "color": "#e8c8e8", "strokeWidth": 1.5},
     "encoding": {"x": {"datum": {"year":2026,"month":1,"date":2,"hours":6,"minutes":45,"seconds":48}, "type": "temporal", "axis": null}, "x2": {"datum": {"year":2026,"month":1,"date":2,"hours":7,"minutes":24,"seconds":54}}, "y": {"datum": 25157.6, "type": "quantitative", "axis": null}}},
    {"data": {"values": [{}]}, "mark": {"type": "rule", "color": "#1f3fbf", "strokeWidth": 1},
     "encoding": {"x": {"datum": {"year":2026,"month":1,"date":2,"hours":6,"minutes":38,"seconds":12}, "type": "temporal", "axis": null}, "x2": {"datum": {"year":2026,"month":1,"date":2,"hours":7,"minutes":14,"seconds":54}}, "y": {"datum": 25151.3, "type": "quantitative", "axis": null}}},
    {"data": {"values": [{}]}, "mark": {"type": "text", "text": "TRINITAS", "font": "Liberation Sans", "fontStyle": "italic", "fontWeight": "bold", "fontSize": 8.5, "align": "left", "baseline": "middle", "color": "#c8142f"},
     "encoding": {"x": {"datum": {"year":2026,"month":1,"date":2,"hours":6,"minutes":48,"seconds":6}, "type": "temporal", "axis": null}, "y": {"datum": 25160.6, "type": "quantitative", "axis": null}}},
    {"data": {"values": [{}]}, "mark": {"type": "text", "text": "TRADING", "font": "Liberation Sans", "fontStyle": "italic", "fontWeight": "bold", "fontSize": 8.5, "align": "left", "baseline": "middle", "color": "#2344c8"},
     "encoding": {"x": {"datum": {"year":2026,"month":1,"date":2,"hours":6,"minutes":48,"seconds":6}, "type": "temporal", "axis": null}, "y": {"datum": 25154.3, "type": "quantitative", "axis": null}}},
    {"data": {"values": [{}]}, "mark": {"type": "text", "text": "© 2026 NinjaTrader, LLC", "fontSize": 9.5, "align": "left", "baseline": "middle", "color": "#d8d8d8"},
     "encoding": {"x": {"datum": {"year":2026,"month":1,"date":2,"hours":6,"minutes":27,"seconds":40}, "type": "temporal", "axis": null}, "y": {"datum": 25147.2, "type": "quantitative", "axis": null}}},
    {"data": {"values": [{}]}, "mark": {"type": "text", "text": "ATR(1.5):\u00a0 44.36", "fontSize": 12, "align": "left", "baseline": "middle", "color": "#e3e33a"},
     "encoding": {"x": {"datum": {"year":2026,"month":1,"date":2,"hours":10,"minutes":49,"seconds":30}, "type": "temporal", "axis": null}, "y": {"datum": 25149.7, "type": "quantitative", "axis": null}}},
    {"data": {"values": [{}]}, "mark": {"type": "text", "text": "Risk/Lot: $88.73", "fontSize": 12, "align": "left", "baseline": "middle", "color": "#e3e33a"},
     "encoding": {"x": {"datum": {"year":2026,"month":1,"date":2,"hours":12,"minutes":3,"seconds":6}, "type": "temporal", "axis": null}, "y": {"datum": 25149.7, "type": "quantitative", "axis": null}}}
   ]
  }
 ]
},
{
 "width": 557, "height": 612,
 "resolve": {"scale": {"x": "independent", "color": "independent", "fill": "independent", "stroke": "independent"}},
 "layer": [
  {
   "resolve": {"scale": {"color": "independent", "fill": "independent", "stroke": "independent"}},
   "layer": [
    {"data": {"values": [{}]}, "mark": {"type": "text", "text": "ES", "font": "Open Sans", "fontWeight": 300, "fontSize": 194, "align": "left", "baseline": "alphabetic", "color": "#1b1b1b"},
     "encoding": {"x": {"datum": {"year":2026,"month":1,"date":2,"hours":6,"minutes":36,"seconds":0}, "type": "temporal", "axis": null, "scale": {"domain": [{"year":2026,"month":1,"date":2,"hours":6,"minutes":38,"seconds":38},{"year":2026,"month":1,"date":2,"hours":13,"minutes":24,"seconds":42}]}},
                  "y": {"datum": 6848.85, "type": "quantitative", "axis": null, "scale": {"domain": [6845.12, 6886.61], "nice": false, "zero": false}}}},
    {"data": {"values": [{"lo": 6867.36, "hi": 6868.3}, {"lo": 6857.05, "hi": 6859.08}]}, "mark": {"type": "rect", "color": "#0d0d0d"},
     "encoding": {"x": {"datum": {"year":2026,"month":1,"date":2,"hours":6,"minutes":38,"seconds":38}, "type": "temporal", "axis": null}, "x2": {"datum": {"year":2026,"month":1,"date":2,"hours":13,"minutes":24,"seconds":42}},
                  "y": {"field": "lo", "type": "quantitative", "axis": null}, "y2": {"field": "hi"}}},
    {"data": {"name": "esZones"}, "mark": {"type": "rect"},
     "encoding": {"x": {"datum": {"year":2026,"month":1,"date":2,"hours":7,"minutes":30}, "type": "temporal", "axis": null}, "x2": {"datum": {"year":2026,"month":1,"date":2,"hours":13,"minutes":24,"seconds":42}},
                  "y": {"field": "lo", "type": "quantitative", "axis": null}, "y2": {"field": "hi"},
                  "fill": {"field": "k", "type": "nominal", "scale": {"domain": ["olive1","olive2","blue","green"], "range": ["#1f1a0a","#181509","#0e1b2e","#0c1a0e"]}, "legend": null}}},
    {"data": {"values": [{}]}, "mark": {"type": "rule", "color": "#2c0707", "strokeWidth": 9},
     "encoding": {"x": {"datum": {"year":2026,"month":1,"date":2,"hours":7,"minutes":30}, "type": "temporal", "axis": null}, "x2": {"datum": {"year":2026,"month":1,"date":2,"hours":10,"minutes":12,"seconds":12}},
                  "y": {"datum": 6849.55, "type": "quantitative", "axis": null}}},
    {"data": {"values": [{"p": 6868.3}, {"p": 6867.36}, {"p": 6859.08}, {"p": 6857.05}]}, "mark": {"type": "rule", "color": "#2c2c2c", "strokeWidth": 1},
     "encoding": {"x": {"datum": {"year":2026,"month":1,"date":2,"hours":6,"minutes":38,"seconds":38}, "type": "temporal", "axis": null}, "x2": {"datum": {"year":2026,"month":1,"date":2,"hours":13,"minutes":24,"seconds":42}},
                  "y": {"field": "p", "type": "quantitative", "axis": null}}}
   ]
  },
  {"data": {"name": "esProf"}, "mark": {"type": "rect", "color": "#343434"},
   "encoding": {"x": {"field": "v", "type": "quantitative", "axis": null, "scale": {"domain": [0, 557], "reverse": true, "nice": false}}, "x2": {"datum": 0},
                "y": {"field": "hi", "type": "quantitative", "axis": null}, "y2": {"field": "lo"}}},
  {
   "resolve": {"scale": {"color": "independent", "fill": "independent", "stroke": "independent"}},
   "layer": [
    {"data": {"name": "esDash"}, "mark": {"type": "rule", "strokeWidth": 1.5, "strokeDash": [2, 1.5]},
     "encoding": {"x": {"field": "t1", "type": "temporal", "axis": null}, "x2": {"field": "t2"}, "y": {"field": "p", "type": "quantitative", "axis": null},
                  "color": {"field": "k", "type": "nominal", "scale": {"domain": ["o", "g"], "range": ["#b64a1c", "#1f8a22"]}, "legend": null}}},
    {"data": {"values": [{}]}, "mark": {"type": "rule", "color": "#5b3aa8", "strokeWidth": 1, "strokeDash": [2, 2]},
     "encoding": {"x": {"datum": {"year":2026,"month":1,"date":2,"hours":7,"minutes":30}, "type": "temporal", "axis": null}, "x2": {"datum": {"year":2026,"month":1,"date":2,"hours":13,"minutes":24,"seconds":42}}, "y": {"datum": 6883.22, "type": "quantitative", "axis": null}}},
    {"data": {"values": [{}]}, "mark": {"type": "rule", "color": "#555555", "strokeWidth": 1, "strokeDash": [3, 3]},
     "encoding": {"x": {"datum": {"year":2026,"month":1,"date":2,"hours":7,"minutes":30}, "type": "temporal", "axis": null}, "x2": {"datum": {"year":2026,"month":1,"date":2,"hours":13,"minutes":24,"seconds":42}}, "y": {"datum": 6873.61, "type": "quantitative", "axis": null}}},
    {"data": {"values": [{}]}, "mark": {"type": "rule", "color": "#ff2a90", "strokeWidth": 3},
     "encoding": {"x": {"datum": {"year":2026,"month":1,"date":2,"hours":10,"minutes":19,"seconds":30}, "type": "temporal", "axis": null}, "x2": {"datum": {"year":2026,"month":1,"date":2,"hours":13,"minutes":24,"seconds":0}}, "y": {"datum": 6871.29, "type": "quantitative", "axis": null}}},
    {"data": {"name": "es"}, "mark": {"type": "rule", "strokeWidth": 1, "clip": true},
     "encoding": {"x": {"field": "t", "type": "temporal", "axis": null, "scale": {"domain": [{"year":2026,"month":1,"date":2,"hours":6,"minutes":38,"seconds":38},{"year":2026,"month":1,"date":2,"hours":13,"minutes":24,"seconds":42}]}},
                  "y": {"field": "l", "type": "quantitative", "axis": null, "scale": {"domain": [6845.12, 6886.61], "nice": false, "zero": false}},
                  "y2": {"field": "h"},
                  "color": {"condition": {"test": "datum.c >= datum.o", "value": "#2bbd2b"}, "value": "#d41515"}}},
    {"data": {"name": "es"}, "mark": {"type": "bar", "size": 5, "strokeWidth": 1},
     "encoding": {"x": {"field": "t", "type": "temporal", "axis": null}, "y": {"field": "o", "type": "quantitative", "axis": null}, "y2": {"field": "c"},
                  "fill": {"condition": {"test": "datum.c >= datum.o", "value": "#138a13"}, "value": "#a80d0d"},
                  "stroke": {"condition": {"test": "datum.c >= datum.o", "value": "#2fd02f"}, "value": "#e81c1c"}}},
    {"data": {"name": "es"}, "mark": {"type": "line", "color": "#8c9292", "strokeWidth": 1},
     "encoding": {"x": {"field": "t", "type": "temporal", "axis": null}, "y": {"field": "m1", "type": "quantitative", "axis": null}}},
    {"data": {"name": "es"}, "mark": {"type": "line", "color": "#7cf5d0", "strokeWidth": 4, "strokeCap": "round"},
     "encoding": {"x": {"field": "t", "type": "temporal", "axis": null}, "y": {"field": "m2", "type": "quantitative", "axis": null}}},
    {"data": {"name": "esDots"}, "mark": {"type": "point", "filled": true, "size": 32, "opacity": 1},
     "encoding": {"x": {"field": "t", "type": "temporal", "axis": null}, "y": {"field": "p", "type": "quantitative", "axis": null},
                  "color": {"field": "k", "type": "nominal", "scale": {"domain": ["hi", "lo"], "range": ["#f57b5a", "#c466e0"]}, "legend": null}}},
    {"data": {"values": [{}]}, "mark": {"type": "point", "shape": "M-0.35,-1L0.35,-1L0.35,0L0.85,0L0,1L-0.85,0L-0.35,0Z", "filled": true, "size": 196, "color": "#2f9f67", "opacity": 1},
     "encoding": {"x": {"datum": {"year":2026,"month":1,"date":2,"hours":10,"minutes":25}, "type": "temporal", "axis": null}, "y": {"datum": 6883.76, "type": "quantitative", "axis": null}}},
    {"data": {"name": "esOrders"}, "mark": {"type": "rule", "strokeWidth": 1.5},
     "encoding": {"x": {"datum": {"year":2026,"month":1,"date":2,"hours":10,"minutes":33}, "type": "temporal", "axis": null}, "x2": {"datum": {"year":2026,"month":1,"date":2,"hours":13,"minutes":30}},
                  "y": {"field": "p", "type": "quantitative", "axis": null},
                  "color": {"field": "k", "type": "nominal", "scale": {"domain": ["stop", "lmt"], "range": ["#ff1a1a", "#3bdc3b"]}, "legend": null}}},
    {"data": {"values": [{}]}, "mark": {"type": "rule", "strokeWidth": 1.5, "color": "#f2c48d"},
     "encoding": {"x": {"datum": {"year":2026,"month":1,"date":2,"hours":11,"minutes":34,"seconds":36}, "type": "temporal", "axis": null}, "x2": {"datum": {"year":2026,"month":1,"date":2,"hours":13,"minutes":30}},
                  "y": {"datum": 6878.0, "type": "quantitative", "axis": null}}},
    {"data": {"name": "esOrders"}, "mark": {"type": "point", "shape": "M-1,-0.26L0.81,-0.26L1,0L0.81,0.26L-1,0.26Z", "filled": true, "size": 2916, "opacity": 1},
     "encoding": {"x": {"datum": {"year":2026,"month":1,"date":2,"hours":10,"minutes":32,"seconds":30}, "type": "temporal", "axis": null},
                  "y": {"field": "p", "type": "quantitative", "axis": null},
                  "color": {"field": "k", "type": "nominal", "scale": {"domain": ["stop", "lmt"], "range": ["#f50f0f", "#43d643"]}, "legend": null}}},
    {"data": {"name": "esOrders"}, "mark": {"type": "text", "fontSize": 11, "align": "center", "baseline": "middle"},
     "encoding": {"x": {"datum": {"year":2026,"month":1,"date":2,"hours":10,"minutes":31,"seconds":18}, "type": "temporal", "axis": null},
                  "y": {"field": "p", "type": "quantitative", "axis": null}, "text": {"field": "lbl"},
                  "color": {"field": "k", "type": "nominal", "scale": {"domain": ["stop", "lmt"], "range": ["#ffffff", "#0b260b"]}, "legend": null}}},
    {"data": {"name": "esOrders"}, "mark": {"type": "point", "shape": "square", "filled": true, "fill": "#454545", "stroke": "#d0d0d0", "strokeWidth": 1, "size": 169, "opacity": 1},
     "encoding": {"x": {"datum": {"year":2026,"month":1,"date":2,"hours":13,"minutes":14,"seconds":30}, "type": "temporal", "axis": null}, "y": {"field": "p", "type": "quantitative", "axis": null}}},
    {"data": {"name": "esOrders"}, "mark": {"type": "point", "shape": "M-1,-1L1,1M1,-1L-1,1", "filled": false, "color": "#ffffff", "strokeWidth": 2.2, "size": 64, "opacity": 1},
     "encoding": {"x": {"datum": {"year":2026,"month":1,"date":2,"hours":13,"minutes":14,"seconds":30}, "type": "temporal", "axis": null}, "y": {"field": "p", "type": "quantitative", "axis": null}}},
    {"data": {"values": [{}]}, "mark": {"type": "point", "shape": "M-1,-0.35L1,-0.35L1,0.35L-1,0.35Z", "filled": true, "fill": "#1c1c1c", "stroke": "#7a7a7a", "strokeWidth": 1, "size": 2304, "opacity": 1},
     "encoding": {"x": {"datum": {"year":2026,"month":1,"date":2,"hours":11,"minutes":11,"seconds":18}, "type": "temporal", "axis": null}, "y": {"datum": 6878.0, "type": "quantitative", "axis": null}}},
    {"data": {"values": [{}]}, "mark": {"type": "text", "text": "17.00", "fontSize": 11, "align": "center", "baseline": "middle", "color": "#3cc43c"},
     "encoding": {"x": {"datum": {"year":2026,"month":1,"date":2,"hours":11,"minutes":11,"seconds":18}, "type": "temporal", "axis": null}, "y": {"datum": 6878.0, "type": "quantitative", "axis": null}}},
    {"data": {"values": [{}]}, "mark": {"type": "point", "shape": "M-1,-1.15L1,-1.15L1,1.15L-1,1.15Z", "filled": true, "fill": "#c42b2b", "stroke": "#7a7a7a", "strokeWidth": 1, "size": 196, "opacity": 1},
     "encoding": {"x": {"datum": {"year":2026,"month":1,"date":2,"hours":11,"minutes":34,"seconds":36}, "type": "temporal", "axis": null}, "y": {"datum": 6878.0, "type": "quantitative", "axis": null}}},
    {"data": {"values": [{}]}, "mark": {"type": "text", "text": "1", "fontSize": 11, "align": "center", "baseline": "middle", "color": "#ffffff"},
     "encoding": {"x": {"datum": {"year":2026,"month":1,"date":2,"hours":11,"minutes":34,"seconds":36}, "type": "temporal", "axis": null}, "y": {"datum": 6878.0, "type": "quantitative", "axis": null}}},
    {"data": {"values": [{}]}, "mark": {"type": "rule", "color": "#9a9a9a", "strokeWidth": 1},
     "encoding": {"x": {"datum": {"year":2026,"month":1,"date":2,"hours":13,"minutes":24,"seconds":42}, "type": "temporal", "axis": null}, "y": {"datum": 6845.12, "type": "quantitative", "axis": null}, "y2": {"datum": 6886.61}}},
    {"data": {"values": [{}]}, "mark": {"type": "rule", "color": "#9a9a9a", "strokeWidth": 1},
     "encoding": {"x": {"datum": {"year":2026,"month":1,"date":2,"hours":6,"minutes":38,"seconds":38}, "type": "temporal", "axis": null}, "x2": {"datum": {"year":2026,"month":1,"date":2,"hours":13,"minutes":24,"seconds":42}}, "y": {"datum": 6845.12, "type": "quantitative", "axis": null}}},
    {"data": {"name": "esTicks"}, "mark": {"type": "rule", "color": "#9a9a9a", "strokeWidth": 1},
     "encoding": {"x": {"datum": {"year":2026,"month":1,"date":2,"hours":13,"minutes":24,"seconds":42}, "type": "temporal", "axis": null}, "x2": {"datum": {"year":2026,"month":1,"date":2,"hours":13,"minutes":27,"seconds":36}}, "y": {"field": "p", "type": "quantitative", "axis": null}}},
    {"data": {"name": "esTicks"}, "transform": [{"filter": "datum.p != 6882 && datum.p != 6878 && datum.p != 6850"}], "mark": {"type": "text", "align": "left", "baseline": "middle", "fontSize": 10.5, "color": "#d2d2d2"},
     "encoding": {"x": {"datum": {"year":2026,"month":1,"date":2,"hours":13,"minutes":29,"seconds":48}, "type": "temporal", "axis": null}, "y": {"field": "p", "type": "quantitative", "axis": null}, "text": {"field": "p", "type": "quantitative", "format": ".2f"}}},
    {"data": {"name": "hours"}, "mark": {"type": "rule", "color": "#9a9a9a", "strokeWidth": 1},
     "encoding": {"x": {"field": "t", "type": "temporal", "axis": null}, "y": {"datum": 6845.12, "type": "quantitative", "axis": null}, "y2": {"datum": 6844.78}}},
    {"data": {"name": "hours"}, "mark": {"type": "text", "align": "center", "baseline": "middle", "fontSize": 10.5, "color": "#d2d2d2"},
     "encoding": {"x": {"field": "t", "type": "temporal", "axis": null}, "y": {"datum": 6843.9, "type": "quantitative", "axis": null}, "text": {"field": "t", "type": "temporal", "format": "%H:%M"}}},
    {"data": {"values": [{}]}, "mark": {"type": "rect", "color": "#202020"},
     "encoding": {"x": {"datum": {"year":2026,"month":1,"date":2,"hours":6,"minutes":38,"seconds":38}, "type": "temporal", "axis": null}, "x2": {"datum": {"year":2026,"month":1,"date":2,"hours":13,"minutes":57,"seconds":30}},
                  "y": {"datum": 6843.02, "type": "quantitative", "axis": null}, "y2": {"datum": 6843.42}}},
    {"data": {"values": [{}]}, "mark": {"type": "rect", "color": "#4d4d4d"},
     "encoding": {"x": {"datum": {"year":2026,"month":1,"date":2,"hours":13,"minutes":25,"seconds":24}, "type": "temporal", "axis": null}, "x2": {"datum": {"year":2026,"month":1,"date":2,"hours":13,"minutes":54,"seconds":36}},
                  "y": {"datum": 6843.02, "type": "quantitative", "axis": null}, "y2": {"datum": 6843.42}}},
    {"data": {"name": "esTags"}, "mark": {"type": "point", "shape": "M-1,0L-0.77,-0.32L1,-0.32L1,0.32L-0.77,0.32Z", "filled": true, "size": 1936, "strokeWidth": 1, "opacity": 1},
     "encoding": {"x": {"datum": {"year":2026,"month":1,"date":2,"hours":13,"minutes":41,"seconds":6}, "type": "temporal", "axis": null},
                  "y": {"field": "p", "type": "quantitative", "axis": null},
                  "fill": {"field": "k", "type": "nominal", "scale": {"domain": ["sig","pos","stop","ma1","ma2","grn","last","lmt"], "range": ["#ff5b1e","#f6c893","#f10f0f","#6a9ca2","#7ff7d3","#128a12","#000000","#43d643"]}, "legend": null},
                  "stroke": {"field": "k", "type": "nominal", "scale": {"domain": ["sig","pos","stop","ma1","ma2","grn","last","lmt"], "range": ["#ff5b1e","#f6c893","#f10f0f","#6a9ca2","#7ff7d3","#128a12","#d8d8d8","#43d643"]}, "legend": null}}},
    {"data": {"name": "esTags"}, "transform": [{"filter": "datum.k != 'pos'"}], "mark": {"type": "text", "fontSize": 11, "align": "center", "baseline": "middle"},
     "encoding": {"x": {"datum": {"year":2026,"month":1,"date":2,"hours":13,"minutes":42,"seconds":54}, "type": "temporal", "axis": null},
                  "y": {"field": "p", "type": "quantitative", "axis": null}, "text": {"field": "p", "type": "quantitative", "format": ".2f"},
                  "color": {"field": "k", "type": "nominal", "scale": {"domain": ["sig","stop","ma1","ma2","grn","last","lmt"], "range": ["#ffffff","#ffffff","#0e2024","#0b3026","#ffffff","#ffffff","#0d2a0d"]}, "legend": null}}},
    {"data": {"values": [{}]}, "mark": {"type": "point", "shape": "diamond", "filled": false, "color": "#b8b8b8", "strokeWidth": 1, "size": 600, "opacity": 1},
     "encoding": {"x": {"datum": {"year":2026,"month":1,"date":2,"hours":6,"minutes":48,"seconds":6}, "type": "temporal", "axis": null}, "y": {"datum": 6847.39, "type": "quantitative", "axis": null}}},
    {"data": {"values": [{}]}, "mark": {"type": "point", "shape": "circle", "filled": true, "color": "#d3193c", "size": 46, "opacity": 1},
     "encoding": {"x": {"datum": {"year":2026,"month":1,"date":2,"hours":6,"minutes":48,"seconds":24}, "type": "temporal", "axis": null}, "y": {"datum": 6847.81, "type": "quantitative", "axis": null}}},
    {"data": {"values": [{}]}, "mark": {"type": "point", "shape": "circle", "filled": true, "color": "#ffffff", "size": 46, "opacity": 1},
     "encoding": {"x": {"datum": {"year":2026,"month":1,"date":2,"hours":6,"minutes":44,"seconds":12}, "type": "temporal", "axis": null}, "y": {"datum": 6847.4, "type": "quantitative", "axis": null}}},
    {"data": {"values": [{}]}, "mark": {"type": "point", "shape": "circle", "filled": true, "color": "#1c3fd0", "size": 46, "opacity": 1},
     "encoding": {"x": {"datum": {"year":2026,"month":1,"date":2,"hours":6,"minutes":48,"seconds":24}, "type": "temporal", "axis": null}, "y": {"datum": 6846.95, "type": "quantitative", "axis": null}}},
    {"data": {"values": [{}]}, "mark": {"type": "rule", "color": "#b8102e", "strokeWidth": 1},
     "encoding": {"x": {"datum": {"year":2026,"month":1,"date":2,"hours":6,"minutes":49,"seconds":36}, "type": "temporal", "axis": null}, "x2": {"datum": {"year":2026,"month":1,"date":2,"hours":7,"minutes":23,"seconds":48}}, "y": {"datum": 6848.22, "type": "quantitative", "axis": null}}},
    {"data": {"values": [{}]}, "mark": {"type": "rule", "color": "#e8c8e8", "strokeWidth": 1.5},
     "encoding": {"x": {"datum": {"year":2026,"month":1,"date":2,"hours":6,"minutes":56,"seconds":54}, "type": "temporal", "axis": null}, "x2": {"datum": {"year":2026,"month":1,"date":2,"hours":7,"minutes":33,"seconds":18}}, "y": {"datum": 6847.38, "type": "quantitative", "axis": null}}},
    {"data": {"values": [{}]}, "mark": {"type": "rule", "color": "#1f3fbf", "strokeWidth": 1},
     "encoding": {"x": {"datum": {"year":2026,"month":1,"date":2,"hours":6,"minutes":49,"seconds":36}, "type": "temporal", "axis": null}, "x2": {"datum": {"year":2026,"month":1,"date":2,"hours":7,"minutes":23,"seconds":48}}, "y": {"datum": 6846.53, "type": "quantitative", "axis": null}}},
    {"data": {"values": [{}]}, "mark": {"type": "text", "text": "TRINITAS", "font": "Liberation Sans", "fontStyle": "italic", "fontWeight": "bold", "fontSize": 8.5, "align": "left", "baseline": "middle", "color": "#c8142f"},
     "encoding": {"x": {"datum": {"year":2026,"month":1,"date":2,"hours":6,"minutes":58,"seconds":18}, "type": "temporal", "axis": null}, "y": {"datum": 6847.82, "type": "quantitative", "axis": null}}},
    {"data": {"values": [{}]}, "mark": {"type": "text", "text": "TRADING", "font": "Liberation Sans", "fontStyle": "italic", "fontWeight": "bold", "fontSize": 8.5, "align": "left", "baseline": "middle", "color": "#2344c8"},
     "encoding": {"x": {"datum": {"year":2026,"month":1,"date":2,"hours":6,"minutes":58,"seconds":18}, "type": "temporal", "axis": null}, "y": {"datum": 6846.94, "type": "quantitative", "axis": null}}},
    {"data": {"values": [{}]}, "mark": {"type": "text", "text": "© 2026 NinjaTrader, LLC", "fontSize": 9.5, "align": "left", "baseline": "middle", "color": "#d8d8d8"},
     "encoding": {"x": {"datum": {"year":2026,"month":1,"date":2,"hours":6,"minutes":39,"seconds":40}, "type": "temporal", "axis": null}, "y": {"datum": 6845.86, "type": "quantitative", "axis": null}}},
    {"data": {"values": [{}]}, "mark": {"type": "text", "text": "ATR(1.5):\u00a0 8.81", "fontSize": 12, "align": "left", "baseline": "middle", "color": "#e3e33a"},
     "encoding": {"x": {"datum": {"year":2026,"month":1,"date":2,"hours":11,"minutes":8,"seconds":24}, "type": "temporal", "axis": null}, "y": {"datum": 6846.25, "type": "quantitative", "axis": null}}},
    {"data": {"values": [{}]}, "mark": {"type": "text", "text": "Risk/Lot: $440.63", "fontSize": 12, "align": "left", "baseline": "middle", "color": "#e3e33a"},
     "encoding": {"x": {"datum": {"year":2026,"month":1,"date":2,"hours":12,"minutes":13,"seconds":18}, "type": "temporal", "axis": null}, "y": {"datum": 6846.25, "type": "quantitative", "axis": null}}}
   ]
  }
 ]
}
]
}
